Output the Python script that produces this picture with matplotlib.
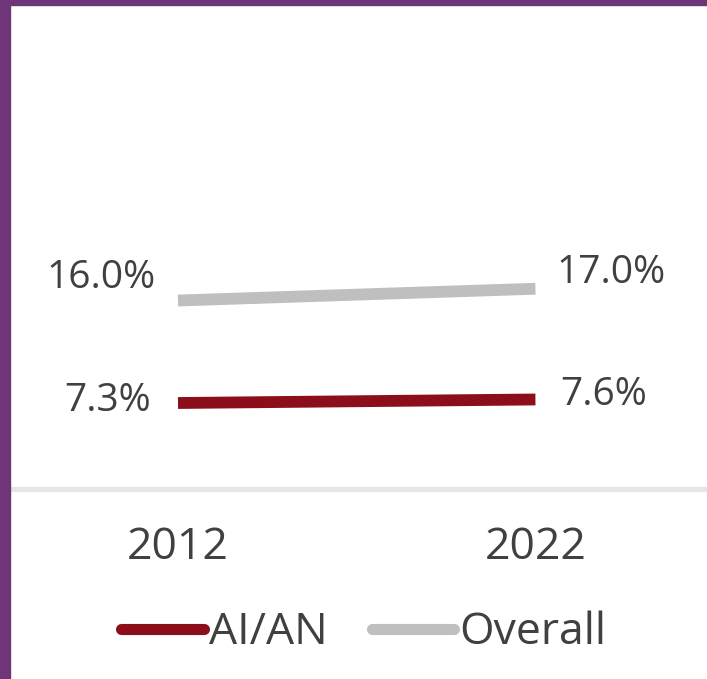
import matplotlib.pyplot as plt
from matplotlib.lines import Line2D
from matplotlib.patches import Rectangle

years = [2012, 2022]
year_labels = ["2012", "2022"]
aian = [7.3, 7.6]
overall = [16.0, 17.0]
aian_labels = ["7.3%", "7.6%"]
overall_labels = ["16.0%", "17.0%"]

red = "#8b0e1a"
grey = "#bfbfbf"
txt = "#404040"
purple = "#6e3578"

plt.rcParams['font.family'] = ['Open Sans', 'DejaVu Sans']

W, H = 707, 679
fig = plt.figure(figsize=(W / 100, H / 100), dpi=100)
fig.patch.set_facecolor("white")

# axes: x from pixel 10 to 707, y from 489 (value 0) up to 5
ax = fig.add_axes([10 / W, 1 - 489 / H, 697 / W, 484 / H])
ax.set_xlim(2007.3, 2026.8)
ax.set_ylim(0, 484 / 11.78)
ax.axis("off")

ax.axhline(0, color="#e6e6e6", lw=3.8, zorder=1, clip_on=False)

ax.plot(years, overall, color=grey, lw=8.5, solid_capstyle="butt", zorder=3)
ax.plot(years, aian, color=red, lw=8.5, solid_capstyle="butt", zorder=3)

px = 0.72  # points per pixel
# value labels (offsets in pixels: dx, dy up)
ax.annotate(overall_labels[0], (years[0], overall[0]), xytext=(-22 * px, 13 * px),
            textcoords="offset points", ha="right", va="baseline", fontsize=28, color=txt)
ax.annotate(overall_labels[1], (years[1], overall[1]), xytext=(21 * px, 6 * px),
            textcoords="offset points", ha="left", va="baseline", fontsize=28, color=txt)
ax.annotate(aian_labels[0], (years[0], aian[0]), xytext=(-27 * px, -8 * px),
            textcoords="offset points", ha="right", va="baseline", fontsize=28, color=txt)
ax.annotate(aian_labels[1], (years[1], aian[1]), xytext=(25 * px, -5.5 * px),
            textcoords="offset points", ha="left", va="baseline", fontsize=28, color=txt)

# year labels
for x, lab in zip(years, year_labels):
    ax.annotate(lab, (x, 0), xytext=(0, -70 * px), textcoords="offset points",
                ha="center", va="baseline", fontsize=32, color=txt)

handles = [Line2D([], [], color=red, lw=8, solid_capstyle="round"),
           Line2D([], [], color=grey, lw=8, solid_capstyle="round")]
fig.legend(handles, ["AI/AN", "Overall"], loc="center",
           bbox_to_anchor=(364 / W, 1 - 633 / H), ncol=2, frameon=False,
           fontsize=32, labelcolor=txt, handlelength=1.85, handletextpad=0.12,
           columnspacing=1.0, borderpad=0)

# purple frame on left and top
fig.patches.append(Rectangle((0, 0), 10 / W, 1, transform=fig.transFigure,
                             color=purple, zorder=10))
fig.patches.append(Rectangle((0, 1 - 5 / H), 1, 5 / H, transform=fig.transFigure,
                             color=purple, zorder=10))

fig.savefig("out.png", dpi=100)
